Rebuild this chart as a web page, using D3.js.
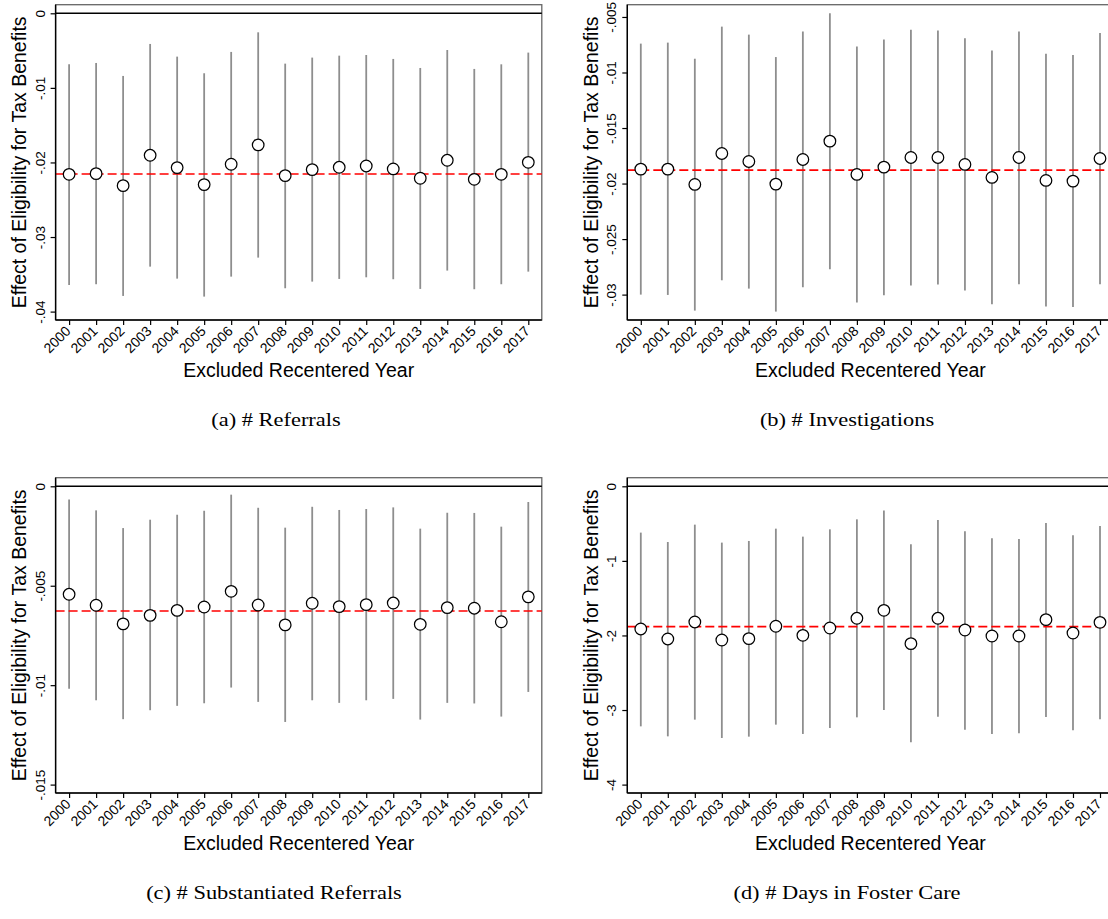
<!DOCTYPE html>
<html>
<head>
<meta charset="utf-8">
<script src="https://cdn.jsdelivr.net/npm/d3@7"></script>
<style>
  body { margin: 0; background: #fff; }
  svg { display: block; }
</style>
</head>
<body>
<div id="root"></div>
<script>
// excluded year on the x axis, same for all four panels
let years = [2000, 2001, 2002, 2003, 2004, 2005, 2006, 2007, 2008, 2009,
    2010, 2011, 2012, 2013, 2014, 2015, 2016, 2017];

// (a) # Referrals
let aPoint = [-.02159, -.02150, -.02311, -.01904, -.02069, -.02297, -.02024, -.01765, -.02177,
    -.02096, -.02065, -.02047, -.02087, -.02212, -.01971, -.02226, -.02159, -.01998],
    aLow = [-.03642, -.03633, -.03790, -.03397, -.03558, -.03799, -.03531, -.03276, -.03687,
        -.03598, -.03562, -.03540, -.03566, -.03696, -.03450, -.03700, -.03633, -.03464],
    aHigh = [-.00684, -.00666, -.00840, -.00411, -.00581, -.00804, -.00518, -.00255, -.00675,
        -.00594, -.00568, -.00559, -.00612, -.00733, -.00492, -.00746, -.00684, -.00527],
    aMean = -.02154,
    aTicks = [0, -.01, -.02, -.03, -.04],
    aTickLabels = ['0', '-.01', '-.02', '-.03', '-.04'];

// (b) # Investigations
let bPoint = [-.01870, -.01870, -.02008, -.01729, -.01801, -.02005, -.01783, -.01618, -.01918,
    -.01852, -.01765, -.01765, -.01828, -.01945, -.01765, -.01972, -.01978, -.01774],
    bLow = [-.03000, -.03003, -.03144, -.02871, -.02946, -.03153, -.02934, -.02772, -.03072,
        -.03006, -.02919, -.02910, -.02964, -.03087, -.02907, -.03108, -.03111, -.02907],
    bHigh = [-.00740, -.00731, -.00876, -.00587, -.00659, -.00861, -.00632, -.00467, -.00767,
        -.00704, -.00614, -.00623, -.00692, -.00803, -.00632, -.00831, -.00843, -.00644],
    bMean = -.01879,
    bTicks = [-.005, -.01, -.015, -.02, -.025, -.03],
    bTickLabels = ['-.005', '-.01', '-.015', '-.02', '-.025', '-.03'];

// (c) # Substantiated Referrals
let cPoint = [-.00543, -.00598, -.00692, -.00649, -.00624, -.00607, -.00528, -.00597, -.00697,
    -.00588, -.00605, -.00595, -.00587, -.00694, -.00610, -.00613, -.00681, -.00556],
    cLow = [-.01018, -.01076, -.01171, -.01126, -.01104, -.01091, -.01012, -.01084, -.01185,
        -.01076, -.01089, -.01076, -.01069, -.01173, -.01089, -.01092, -.01158, -.01034],
    cHigh = [-.00067, -.00121, -.00210, -.00168, -.00143, -.00123, -.00042, -.00108, -.00208,
        -.00103, -.00119, -.00114, -.00106, -.00213, -.00133, -.00134, -.00203, -.00079],
    cMean = -.00627,
    cTicks = [0, -.005, -.01, -.015],
    cTickLabels = ['0', '-.005', '-.01', '-.015'];

// (d) # Days in Foster Care
let dPoint = [-1.913, -2.047, -1.819, -2.061, -2.043, -1.877, -1.998, -1.900, -1.770,
    -1.663, -2.110, -1.770, -1.927, -2.007, -2.007, -1.788, -1.967, -1.824],
    dLow = [-3.219, -3.353, -3.129, -3.375, -3.357, -3.196, -3.321, -3.241, -3.098,
        -3.000, -3.433, -3.089, -3.263, -3.321, -3.312, -3.093, -3.272, -3.125],
    dHigh = [-.621, -.747, -.514, -.755, -.733, -.568, -.675, -.577, -.443,
        -.326, -.778, -.451, -.603, -.697, -.706, -.492, -.657, -.532],
    dMean = -1.882,
    dTicks = [0, -1, -2, -3, -4],
    dTickLabels = ['0', '-1', '-2', '-3', '-4'];

let captions = ['(a) # Referrals', '(b) # Investigations',
    '(c) # Substantiated Referrals', '(d) # Days in Foster Care'];

let sansFont = '"Liberation Sans", Arial, Helvetica, sans-serif',
    serifFont = '"Liberation Serif", "Times New Roman", serif';

let svg = d3.select('#root')
    .append('svg')
    .attr('width', 1108)
    .attr('height', 919);

svg.append('rect').attr('width', 1108).attr('height', 919).attr('fill', '#fff');

// frame boxes for the two columns and rows (right column runs off the page, as in the paper)
let columns = [55.6, 627.3],
    rows = [4.7, 477.7],
    frameWidth = 486.2,
    frameHeight = 315.3;

drawPanel(columns[0], rows[0], aPoint, aLow, aHigh, aMean, aTicks, aTickLabels, captions[0], 276);
drawPanel(columns[1], rows[0], bPoint, bLow, bHigh, bMean, bTicks, bTickLabels, captions[1], 847);
drawPanel(columns[0], rows[1], cPoint, cLow, cHigh, cMean, cTicks, cTickLabels, captions[2], 274);
drawPanel(columns[1], rows[1], dPoint, dLow, dHigh, dMean, dTicks, dTickLabels, captions[3], 847);

function drawPanel(left, top, points, lows, highs, mean, ticks, tickLabels, caption, captionX) {

    let bottom = top + frameHeight,
        right = left + frameWidth,
        g = svg.append('g').attr('class', 'panel');

    let x = d3.scalePoint()
        .domain(years)
        .range([left + 13.5, right - 13.5]);

    // stata style range: data and ticks together, with a small margin inside the plot region
    let extent = d3.extent(ticks.concat(lows, highs));
    let y = d3.scaleLinear()
        .domain(extent)
        .range([bottom - 8.4, top + 8.6]);

    let rowsData = years.map((year, i) => ({ year, point: points[i], low: lows[i], high: highs[i] }));

    // plot region outline
    g.append('rect')
        .attr('x', left)
        .attr('y', top)
        .attr('width', frameWidth)
        .attr('height', frameHeight)
        .attr('fill', 'none')
        .style('stroke', '#666')
        .style('stroke-width', 1.3);

    // zero reference line
    if (extent[0] <= 0 && extent[1] >= 0) {
        g.append('line')
            .attr('x1', left)
            .attr('x2', right)
            .attr('y1', y(0))
            .attr('y2', y(0))
            .style('stroke', '#000')
            .style('stroke-width', 1.4);
    }

    // confidence intervals
    g.append('g')
        .selectAll('.ci')
        .data(rowsData)
        .enter()
        .append('line')
        .attr('class', 'ci')
        .attr('x1', (d) => x(d.year))
        .attr('x2', (d) => x(d.year))
        .attr('y1', (d) => y(d.high))
        .attr('y2', (d) => y(d.low))
        .style('stroke', '#8e8e8e')
        .style('stroke-width', 1.8);

    // average of the point estimates
    g.append('line')
        .attr('x1', left)
        .attr('x2', right)
        .attr('y1', y(mean))
        .attr('y2', y(mean))
        .style('stroke', '#ff0000')
        .style('stroke-width', 1.6)
        .style('stroke-dasharray', '9,4');

    g.append('g')
        .selectAll('.point')
        .data(rowsData)
        .enter()
        .append('circle')
        .attr('class', 'point')
        .attr('cx', (d) => x(d.year))
        .attr('cy', (d) => y(d.point))
        .attr('r', 5.8)
        .attr('fill', '#fff')
        .style('stroke', '#000')
        .style('stroke-width', 1.25);

    // y axis, labels turned vertical
    let yAxis = g.append('g')
        .attr('transform', 'translate(' + left + ',0)')
        .call(d3.axisLeft(y).tickValues(ticks).tickFormat((d, i) => tickLabels[i]).tickSize(5).tickSizeOuter(0));

    yAxis.select('.domain').remove();
    yAxis.selectAll('.tick line').style('stroke', '#000').style('stroke-width', 1.2);
    yAxis.selectAll('.tick text')
        .attr('x', null)
        .attr('dy', null)
        .attr('transform', 'translate(-11,0) rotate(-90)')
        .attr('text-anchor', 'middle')
        .style('font-family', sansFont)
        .style('font-size', '13.5px')
        .style('fill', '#000');

    // x axis, labels at 45 degrees
    let xAxis = g.append('g')
        .attr('transform', 'translate(0,' + bottom + ')')
        .call(d3.axisBottom(x).tickSize(5).tickSizeOuter(0));

    xAxis.select('.domain').remove();
    xAxis.selectAll('.tick line').style('stroke', '#000').style('stroke-width', 1.2);
    xAxis.selectAll('.tick text')
        .attr('y', null)
        .attr('dy', null)
        .attr('transform', 'translate(2,12) rotate(-45)')
        .attr('text-anchor', 'end')
        .style('font-family', sansFont)
        .style('font-size', '14px')
        .style('fill', '#000');

    // axis lines drawn darker than the outline
    g.append('line')
        .attr('x1', left).attr('x2', left)
        .attr('y1', top).attr('y2', bottom)
        .style('stroke', '#000').style('stroke-width', 1.4);

    g.append('line')
        .attr('x1', left).attr('x2', right)
        .attr('y1', bottom).attr('y2', bottom)
        .style('stroke', '#000').style('stroke-width', 1.4);

    g.append('text')
        .attr('transform', 'translate(' + (left - 29.5) + ',' + ((top + bottom) / 2) + ') rotate(-90)')
        .attr('text-anchor', 'middle')
        .style('font-family', sansFont)
        .style('font-size', '19.5px')
        .text('Effect of Eligibility for Tax Benefits');

    g.append('text')
        .attr('x', (left + right) / 2)
        .attr('y', bottom + 57)
        .attr('text-anchor', 'middle')
        .style('font-family', sansFont)
        .style('font-size', '19.5px')
        .text('Excluded Recentered Year');

    // LaTeX subcaption; computer modern runs wider than Times, so stretch it a little
    g.append('text')
        .attr('transform', 'translate(' + captionX + ',' + (bottom + 106) + ') scale(1.18,1)')
        .attr('text-anchor', 'middle')
        .style('font-family', serifFont)
        .style('font-size', '19px')
        .text(caption);
}
</script>
</body>
</html>
